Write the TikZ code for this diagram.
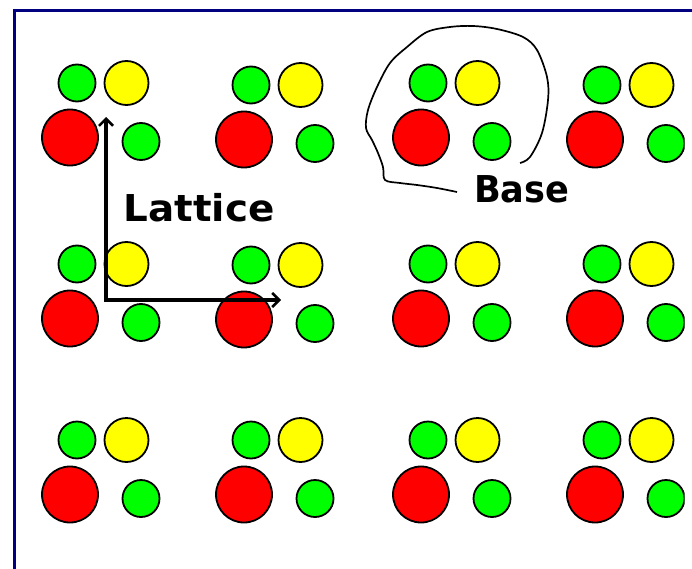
\documentclass[tikz,border=0pt]{standalone}
\usepackage{fontspec}
\newfontfamily\labfont{DejaVu Sans}
\usetikzlibrary{arrows.meta}
\definecolor{navy}{RGB}{0,0,128}
\definecolor{atomred}{RGB}{255,0,0}
\definecolor{atomyellow}{RGB}{255,255,0}
\definecolor{atomgreen}{RGB}{0,255,0}
\tikzset{
  atom/.style={circle, draw=black, line width=1.8pt, inner sep=0pt},
  bigred/.style={atom, fill=atomred, minimum size=56pt},
  yel/.style={atom, fill=atomyellow, minimum size=44pt},
  grn/.style={atom, fill=atomgreen, minimum size=37pt},
  axisline/.style={line width=3.5pt, line join=miter,
    {Straight Barb[length=7pt,width=14pt,line width=2.5pt]}-{Straight Barb[length=7pt,width=14pt,line width=2.5pt]}},
  labeltext/.style={inner sep=0pt, anchor=base west, font=\labfont\bfseries\fontsize{37}{37}\selectfont},
  frameline/.style={draw=navy, line width=3.5pt},
  loopline/.style={line width=1.7pt, black}
}
\begin{document}
\begin{tikzpicture}[x=1pt,y=-1pt]
\useasboundingbox (0,0) rectangle (692,569);
\fill[white] (0,0) rectangle (692,569);
% frame (left and top)
\coordinate (fbl) at (14.5,569);
\coordinate (ftl) at (14.5,10.5);
\coordinate (ftr) at (692,10.5);
\draw[frameline] (fbl) -- (ftl) -- (ftr);
% atom groups
\begin{scope}
\clip (0,0) rectangle (684.5,569);
\foreach \ox/\oy [count=\k] in {0/0, 174/2, 351/0, 525/2,
                                 0/181, 174/182, 351/181, 525/181,
                                 0/357, 174/357, 351/357, 525/357}{
  \node[grn] (gt\k) at (77+\ox, 83+\oy) {};
  \node[yel] (y\k) at (126.5+\ox, 83+\oy) {};
  \node[bigred] (r\k) at (70+\ox, 137.5+\oy) {};
  \node[grn] (gb\k) at (141+\ox, 141.5+\oy) {};
}
\end{scope}
% lattice vectors
\coordinate (origin) at (106,300);
\coordinate (atip) at (106,117);
\coordinate (btip) at (281,300);
\draw[axisline] (atip) -- (origin) -- (btip);
% labels
\node[labeltext] (lattice) at (123.5,221) {\scalebox{1.05}[1]{Lattice}};
\node[labeltext] (base) at (474,202) {\scalebox{0.95}[1]{Base}};
% base loop
\draw[loopline] plot[smooth, tension=0.55] coordinates {
 (520,163) (530,157) (542,133) (548,100) (547,77) (537,50) (523,37)
 (497,29) (473,26) (450,27) (427,32) (407,47) (390,63) (377,87)
 (368,110) (366,128) (372,140) (378,153) (383,167) (385,180)
 (400,183) (417,185) (437,188) (457,192)};
\end{tikzpicture}
\end{document}
